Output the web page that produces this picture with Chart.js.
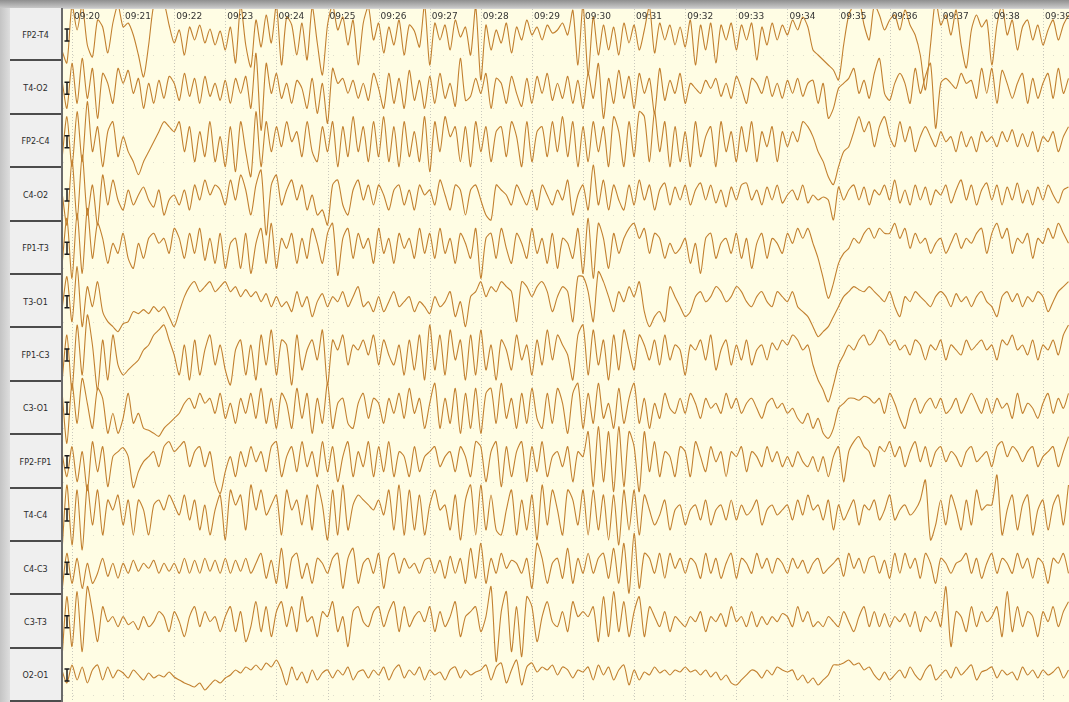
<!DOCTYPE html>
<html>
<head>
<meta charset="utf-8">
<script src="https://cdn.jsdelivr.net/npm/chart.js@4.4.1/dist/chart.umd.min.js"></script>
<style>
  html, body { margin: 0; padding: 0; }
  body { width: 1069px; height: 702px; position: relative; overflow: hidden; background: #d4d4d4; font-family: "DejaVu Sans", sans-serif; }
  #topbar { position: absolute; left: 0; top: 0; width: 1069px; height: 8px; background: linear-gradient(#8f8f8f, #c8c8c8); }
  #leftbar { position: absolute; left: 0; top: 8px; width: 10px; height: 694px; background: linear-gradient(90deg, #c4c4c4, #dedede); }
  #labels { position: absolute; left: 10px; top: 8px; width: 51px; height: 694px; border-right: 2px solid #6a6a6a; background: #efefef; }
  .lab { position: absolute; left: 0; width: 51px; border-bottom: 2px solid #4c4c4c; box-sizing: border-box;
         display: flex; align-items: center; justify-content: center; font-size: 8px; color: #2a2a2a; background: #efefef; padding-top: 3px; }
  #plot { position: absolute; left: 63px; top: 9px; width: 1006px; height: 693px; background: #fffde4; }
</style>
</head>
<body>
<div id="topbar"></div>
<div id="leftbar"></div>
<div id="labels"></div>
<div id="plot"><canvas id="eeg" width="1006" height="693"></canvas></div>
<script>
// Channel names (top to bottom)
const channels = ['FP2-T4','T4-O2','FP2-C4','C4-O2','FP1-T3','T3-O1','FP1-C3','C3-O1','FP2-FP1','T4-C4','C4-C3','C3-T3','O2-O1'];

// Minute tick labels
const minuteLabels = ['09:20','09:21','09:22','09:23','09:24','09:25','09:26','09:27','09:28','09:29',
  '09:30','09:31','09:32','09:33','09:34','09:35','09:36','09:37','09:38','09:39'];
const minuteValues = [20,21,22,23,24,25,26,27,28,29,30,31,32,33,34,35,36,37,38,39];

// Deflections per channel, sampled every 0.1 min from 19.8 (up = positive)
const fp2t4 = [-15,-28,
  30,5,30,-10,-22,15,8,-18,12,30,
  8,12,0,-20,-42,-10,30,35,32,10,
  -8,5,-20,8,-5,10,-8,6,-10,4,
  -15,8,-28,30,-10,-32,15,-12,20,-8,
  30,-30,18,10,-20,12,-25,28,-8,-40,
  10,30,5,18,-10,15,-30,12,28,-5,
  12,-18,8,-10,15,-20,10,4,-12,30,
  -30,12,-5,10,-15,15,-2,8,-20,28,
  -45,10,-15,5,-8,12,-18,8,-5,15,
  0,8,-5,10,2,5,12,0,25,-30,
  30,-40,18,-20,10,-15,8,-20,12,-8,
  10,-15,5,28,-18,12,-5,10,-10,8,
  -12,15,-30,10,-15,12,-28,10,-5,12,
  -15,10,-5,12,-25,8,-10,12,-5,10,
  0,15,5,18,8,-15,-20,-25,-30,-35,
  -45,-10,20,30,35,10,-5,30,20,5,
  15,20,5,25,10,0,-20,-55,-10,35,
  10,20,0,25,-10,-33,5,20,8,15,
  -30,10,30,0,15,-15,8,15,-5,10,
  -10,5,15,-5,10,20];
const t4o2 = [10,-20,
  25,-15,30,-10,20,-30,15,5,-15,20,
  5,18,-5,10,-20,5,-15,8,-10,12,
  5,-12,15,-8,10,-15,12,-8,5,-12,
  8,-15,10,-5,12,-20,35,-42,25,-5,
  15,-10,5,-15,8,0,-20,10,-25,5,
  -35,20,5,10,-5,8,-10,5,-12,15,
  0,-20,15,-15,10,-20,18,-12,8,-20,
  12,-15,15,-10,5,-18,30,-12,-8,10,
  -5,15,-20,10,5,-15,12,-5,-18,10,
  -15,12,-5,15,-12,5,-10,12,-15,8,
  -20,15,-10,25,-30,10,-15,18,-10,12,
  -20,15,-5,10,-25,20,-12,8,-5,15,
  -15,5,0,-5,8,0,10,-8,5,-10,
  12,0,-15,10,5,-5,12,-8,5,-10,
  8,-5,10,-8,5,8,-15,5,-30,-20,
  0,5,10,20,-5,8,-10,15,30,-5,
  -12,5,15,5,-15,20,-5,12,25,-40,
  5,10,5,0,15,5,8,-10,20,-5,
  20,-15,18,5,-10,5,15,-15,10,-10,
  5,15,-10,20,-5,10];
const fp2c4 = [-20,25,
  -25,30,-20,40,-10,15,-25,10,20,-15,
  5,-10,-20,-33,-20,-10,0,10,20,15,
  10,20,-10,15,-20,10,-15,20,-20,5,
  -25,15,-30,20,-10,-35,30,-25,20,-10,
  15,-5,20,0,10,-15,20,-10,-20,15,
  -10,20,-25,15,-15,25,-10,15,-20,20,
  -15,25,-20,15,-25,20,-15,10,-20,25,
  -30,20,-10,25,5,15,-20,15,-25,20,
  -10,15,-20,10,15,-15,20,5,-25,20,
  -20,10,15,-15,20,-10,25,-15,20,-25,
  15,-20,20,-10,15,-25,25,10,-25,20,
  -15,30,25,-20,30,-10,20,-25,15,-20,
  10,-25,20,-15,5,15,-25,20,-10,10,
  -20,15,-10,20,-20,10,-5,15,-20,10,
  -5,10,0,20,15,5,-10,-20,-35,-43,
  -25,-10,-5,10,25,10,20,-5,15,25,
  5,-5,20,0,15,-10,5,15,5,-5,
  10,0,5,-10,10,-5,5,-10,10,0,
  5,-5,10,0,12,-5,8,-5,10,-10,
  5,0,10,-10,5,15];
const c4o2 = [5,-30,
  35,-25,40,-20,10,-30,20,-10,15,-5,
  -15,5,-10,0,8,-5,-12,5,-20,-5,
  0,-10,5,-15,10,-5,15,0,10,5,
  -10,15,-5,20,5,-20,10,25,-40,10,
  20,-10,5,15,-5,10,-15,0,-20,-15,
  -30,10,15,-10,-20,5,15,-5,10,-10,
  10,0,-15,5,10,-10,5,-15,10,0,
  5,-10,15,0,-15,10,5,-20,5,10,
  -5,-20,-25,10,5,0,-10,10,0,-10,
  5,-15,10,0,-10,5,-5,15,-20,0,
  10,-15,30,-10,15,-15,10,-5,-15,10,
  -10,15,-5,10,-15,5,12,-10,8,-5,
  10,-10,5,12,-5,10,-8,5,-12,8,
  -5,10,12,-5,5,-10,8,-5,10,-8,
  0,5,-5,10,-8,0,-5,-2,-5,-25,
  8,-5,5,10,-5,8,-10,5,0,10,
  -5,15,-8,5,-10,10,-5,8,-10,5,
  0,10,-8,5,15,-5,10,-10,5,12,
  -5,10,-10,8,-5,12,-8,5,-10,8,
  -5,10,0,-8,5,8];
const fp1t3 = [-20,30,
  -30,35,-25,40,-10,25,10,-15,5,-5,
  15,-10,-20,5,-10,10,15,5,10,-5,
  20,10,-10,15,-5,20,-12,10,-15,15,
  -20,5,10,-20,15,-25,5,20,-15,25,
  -20,10,0,15,-15,10,-10,20,5,-15,
  15,25,-27,10,20,-10,15,0,10,-15,
  20,-5,10,-15,15,0,10,-10,20,-5,
  15,-10,20,-5,10,-15,15,5,-10,20,
  -30,10,15,-10,20,0,-15,15,5,-10,
  20,-5,10,-15,15,-20,10,5,-10,20,
  -25,30,-30,25,10,-20,15,-5,10,20,
  25,10,20,-5,15,10,-10,5,-5,0,
  10,-15,5,-25,10,15,-10,5,10,-5,
  15,-10,10,-20,5,15,-10,10,5,-5,
  15,5,20,10,20,5,-10,-30,-50,-35,
  -15,-5,0,10,5,15,20,10,20,15,
  15,25,10,20,0,15,5,10,-5,5,
  10,-5,5,15,0,10,5,15,20,-5,
  15,25,10,20,-5,10,5,15,-10,10,
  5,20,10,25,15,5];
const t3o1 = [-10,25,
  -20,35,-25,15,-5,20,-10,-20,-25,-30,
  -22,-20,-10,-12,-8,-12,-5,-10,-5,-15,
  -25,-10,5,15,20,10,15,20,10,15,
  20,10,15,5,12,5,10,0,8,-5,
  5,-5,0,-10,10,-5,5,-15,0,8,
  -5,5,0,10,-5,5,15,-5,0,-10,
  5,-10,0,10,-5,0,5,-10,0,-5,
  -12,5,-5,0,10,-15,0,-25,5,10,
  20,5,15,10,20,15,10,-20,20,15,
  5,15,20,10,-10,5,15,10,-20,25,
  25,10,-20,30,20,5,-10,10,0,15,
  5,20,-10,-25,-15,-10,-20,15,5,-5,
  -15,-10,5,10,0,5,15,10,0,5,
  15,10,0,-5,5,10,0,-5,10,5,
  0,10,-5,-10,-15,-25,-35,-30,-25,-15,
  -5,5,10,15,12,10,15,10,5,0,
  10,-5,-15,5,0,10,5,0,-5,5,
  10,5,-5,8,0,5,-5,5,10,0,
  -5,-15,5,10,0,8,-5,5,0,10,
  5,-10,0,10,15,20];
const fp1c3 = [-30,20,
  -35,30,-20,40,10,-35,15,-25,20,-10,
  -20,-15,-10,-5,5,10,20,25,30,15,
  0,-20,10,-25,15,-20,5,20,-10,10,
  -15,-30,5,15,-20,10,-25,20,-10,25,
  -20,15,10,-30,20,-15,5,15,-5,25,
  -30,15,5,20,-10,10,5,15,0,20,
  -10,15,0,-10,10,-20,15,-15,20,-25,
  30,-15,20,-20,25,-5,15,-25,20,-20,
  25,-15,10,-25,15,5,-15,20,-5,10,
  -20,15,-10,25,-5,20,10,0,-25,20,
  30,-20,25,-10,15,-25,20,-15,25,5,
  -15,20,10,-5,15,-10,20,-5,10,5,
  -20,10,5,15,-5,20,-15,5,15,-10,
  10,-5,15,-10,5,10,-5,12,5,15,
  10,20,15,5,10,-10,-25,-35,-47,-30,
  -10,0,10,5,15,20,10,15,25,20,
  10,15,5,10,0,15,10,-5,10,5,
  15,-5,10,5,0,15,5,10,15,5,
  10,-5,15,10,20,5,10,0,15,-5,
  10,5,15,0,20,30];
const c3o1 = [20,-35,
  25,-15,30,5,-20,20,10,-25,-5,-25,
  -10,15,-15,-5,-20,-22,-25,-28,-20,-15,
  -10,-5,5,10,0,15,5,10,-5,15,
  -10,5,-15,10,-5,15,-10,20,-15,10,
  -20,15,5,-20,20,-10,15,-25,10,-15,
  25,-20,5,10,-15,-20,5,15,-10,10,
  5,-15,10,-5,15,-10,20,-5,10,-20,
  5,25,-20,10,-15,20,-25,15,-20,20,
  -25,15,20,-15,25,-10,10,-20,15,-15,
  20,-10,-20,15,-15,20,5,-25,15,25,
  -20,15,-15,25,-10,5,-20,20,-15,10,
  25,-15,10,-20,5,-10,15,0,-5,10,
  -5,15,5,-10,10,0,5,-5,15,0,
  10,-5,5,10,0,-10,5,10,0,5,
  -5,0,-10,-15,-5,-20,-10,-25,-30,-20,
  0,5,10,10,8,12,10,5,10,-5,
  15,5,-10,-20,0,10,-5,5,10,0,
  10,-5,0,10,-5,5,15,5,-5,10,
  -5,10,0,5,-10,15,-5,5,0,-10,
  5,15,-5,10,0,15];
const fp2fp1 = [10,-15,
  15,-20,10,-29,20,-10,15,-25,5,10,
  14,5,-26,-10,0,5,10,-5,15,20,
  10,15,20,-5,10,15,-5,10,-20,-32,
  -10,5,-15,10,-5,15,0,10,-10,15,
  20,-15,5,15,-10,20,-5,10,-15,20,
  -10,15,-20,5,20,-15,10,-5,20,-15,
  15,-10,20,-15,10,5,-15,15,-10,5,
  10,15,-5,5,10,-10,15,5,-15,20,
  15,-20,10,20,-25,15,-15,10,20,-20,
  15,-10,20,-15,5,10,-5,15,-20,10,
  5,30,-25,35,-20,30,-30,35,-25,30,
  15,-30,30,-10,20,-15,10,5,-15,15,
  10,-15,20,5,-10,15,0,10,-15,10,
  5,15,-10,10,5,-5,15,0,10,-5,
  5,-5,10,0,-5,5,-10,5,-15,5,
  15,-20,10,20,25,15,10,-5,15,10,
  20,5,15,-5,10,20,0,15,-5,10,
  15,0,10,5,-5,10,15,0,5,10,
  -5,15,20,5,15,10,0,10,15,-5,
  5,10,15,-5,10,25];
const t4c4 = [-40,30,
  -30,25,-35,30,-10,25,-20,15,5,20,
  -10,15,-20,15,5,-20,10,15,5,20,
  10,0,20,-5,15,-15,10,-20,5,20,
  -25,25,10,20,-15,30,5,25,0,10,
  20,-20,25,5,15,-10,20,-15,30,10,
  -25,25,-20,30,-15,10,20,15,10,5,
  15,0,25,-15,30,-20,25,-15,20,-20,
  10,25,5,10,-15,20,-25,15,30,-20,
  30,-15,20,-15,-20,5,25,-20,15,-15,
  20,-25,30,-10,25,5,-20,25,15,-10,
  25,-20,25,-15,20,-25,20,-30,25,-15,
  25,-20,20,5,-10,0,15,-15,5,10,
  -10,5,10,-5,15,-10,5,10,-5,15,
  -5,10,0,5,15,-10,5,10,0,5,
  10,-5,15,0,20,5,10,-5,15,-15,
  10,-5,5,15,-10,10,5,15,-5,5,
  20,-5,5,10,0,5,15,35,-25,-10,
  15,-10,20,5,-15,15,-10,25,5,10,
  10,40,-20,5,20,-15,10,20,-20,5,
  15,-15,10,20,-10,30];
const c4c3 = [-25,15,
  -15,10,-20,5,-15,-5,10,-8,5,-10,
  5,-5,8,-3,5,0,8,-5,5,-3,
  5,-5,10,-5,8,-5,10,-3,8,-5,
  10,-5,8,-3,10,-5,5,15,-10,8,
  -15,20,-20,10,15,-10,5,-15,10,5,
  -5,10,15,-20,10,20,-15,5,10,-5,
  15,-20,10,15,-5,10,0,5,-5,8,
  10,-5,8,-10,12,-5,10,-15,20,-10,
  25,-15,10,-5,15,0,8,5,-5,10,
  -20,25,10,-15,5,10,-10,20,-15,10,
  -5,15,-5,10,15,-10,20,-15,25,-25,
  35,-20,15,10,-5,15,-10,15,0,10,
  -5,10,5,-10,15,-5,10,-10,5,15,
  -10,10,5,-5,15,0,10,-5,10,5,
  -5,10,0,8,-5,5,10,-5,0,5,
  10,-8,15,0,10,-5,10,12,-5,8,
  -10,15,-5,15,0,10,-10,15,5,-15,
  10,5,-5,5,8,15,-5,10,-10,5,
  15,-5,10,5,-5,15,0,10,-10,10,
  5,-15,10,5,15,-5];
const c3t3 = [-40,25,
  -25,30,-30,35,10,-20,15,0,5,-5,
  5,-3,0,-8,5,-5,0,10,5,-10,
  10,0,-15,5,15,-5,10,0,5,-10,
  5,15,-10,10,-20,-5,20,-10,15,-15,
  10,20,-5,15,-10,25,0,5,-15,10,
  5,20,-10,5,-25,10,15,0,-5,10,
  15,-5,10,20,-10,15,-5,5,10,0,
  15,-10,10,-5,5,20,-15,5,10,15,
  -10,5,35,-40,10,30,-30,15,-35,25,
  15,-20,5,20,0,-5,10,-10,20,5,
  10,5,15,-20,25,-15,30,-10,20,-15,
  10,25,-15,15,5,-5,10,-10,5,0,
  -5,5,0,10,-10,5,0,8,-5,15,
  0,5,-5,10,-5,5,-3,5,0,8,
  5,-5,15,0,10,-5,0,-5,5,0,
  -5,10,0,-10,5,15,-5,10,-5,8,
  -5,5,0,8,-5,10,-10,5,0,10,
  -5,35,-25,10,5,-10,15,-5,10,0,
  5,15,-15,30,-10,15,-5,10,5,-15,
  10,0,15,-5,10,20];
const o2o1 = [5,-8,
  10,-5,8,-8,5,10,-5,8,-3,5,
  2,-3,5,0,-5,2,-3,0,-2,3,
  -2,-5,-8,-10,-12,-8,-15,-10,-5,-8,
  -3,0,5,2,8,5,10,5,12,8,
  15,5,-10,8,-5,3,-8,5,-5,2,
  5,-3,5,0,8,-5,3,5,-3,5,
  0,8,-5,5,10,-3,5,0,8,-5,
  5,0,3,-5,5,8,-3,5,0,3,
  5,10,-5,8,12,-8,5,15,-10,8,
  12,3,8,5,10,0,8,5,-3,5,
  3,8,-5,10,0,8,-5,5,10,-10,
  5,-5,3,0,8,2,5,0,5,3,
  8,3,5,0,5,-2,3,-5,0,-8,
  -10,-5,0,5,3,-3,5,0,8,5,
  3,5,-5,0,-8,-3,-10,-5,0,10,
  10,12,15,10,12,5,8,0,-5,3,
  -5,0,5,-3,8,0,-5,5,10,-5,
  0,5,-3,8,0,5,10,-5,3,5,
  8,-3,5,0,3,-5,8,0,5,-3,
  5,0,3,8,-3,5];

const traces = [fp2t4, t4o2, fp2c4, c4o2, fp1t3, t3o1, fp1c3, c3o1, fp2fp1, t4c4, c4c3, c3t3, o2o1];

const PLOT_H = 693;
const ROW_H = 53.33;
const TRACE_COLOR = '#c2802f';

// left label boxes
const labelBox = document.getElementById('labels');
channels.forEach((name, i) => {
  const d = document.createElement('div');
  d.className = 'lab';
  d.style.top = (i * 53.4) + 'px';
  d.style.height = '53.4px';
  d.textContent = name;
  labelBox.appendChild(d);
});

const datasets = traces.map((vals, k) => {
  const base = PLOT_H - (26 + ROW_H * k);
  return {
    label: channels[k],
    data: vals.map((v, i) => ({ x: 19.8 + i * 0.1, y: base + v })),
    borderColor: TRACE_COLOR,
    borderWidth: 1.1,
    pointRadius: 0,
    tension: 0.25,
    fill: false
  };
});

// grid, minute labels and calibration marks
const eegDecor = {
  id: 'eegDecor',
  beforeDatasetsDraw(chart) {
    const { ctx, chartArea: a, scales: { x, y } } = chart;
    ctx.save();
    // faint dotted rows
    ctx.strokeStyle = 'rgba(160,160,160,0.35)';
    ctx.lineWidth = 1;
    ctx.setLineDash([1, 9]);
    for (let k = 0; k < channels.length; k++) {
      const py = Math.round(y.getPixelForValue(PLOT_H - (46 + ROW_H * k))) + 0.5;
      ctx.beginPath(); ctx.moveTo(a.left, py); ctx.lineTo(a.right, py); ctx.stroke();
    }
    // minute lines
    ctx.strokeStyle = 'rgba(150,150,150,0.5)';
    ctx.setLineDash([1, 2]);
    minuteValues.forEach(m => {
      const px = Math.round(x.getPixelForValue(m)) + 0.5;
      ctx.beginPath(); ctx.moveTo(px, a.top); ctx.lineTo(px, a.bottom); ctx.stroke();
    });
    ctx.restore();
  },
  afterDatasetsDraw(chart) {
    const { ctx, chartArea: a, scales: { x, y } } = chart;
    ctx.save();
    ctx.fillStyle = '#333';
    ctx.font = '9px "DejaVu Sans", sans-serif';
    ctx.textBaseline = 'top';
    minuteValues.forEach((m, i) => {
      ctx.fillText(minuteLabels[i], x.getPixelForValue(m) + 2, a.top + 3);
    });
    // calibration bars
    ctx.strokeStyle = '#1a1a1a';
    ctx.lineWidth = 1.5;
    for (let k = 0; k < channels.length; k++) {
      const cy = y.getPixelForValue(PLOT_H - (26 + ROW_H * k));
      const cx = a.left + 4;
      ctx.beginPath();
      ctx.moveTo(cx, cy - 6); ctx.lineTo(cx, cy + 6);
      ctx.moveTo(cx - 2.5, cy - 6); ctx.lineTo(cx + 2.5, cy - 6);
      ctx.moveTo(cx - 2.5, cy + 6); ctx.lineTo(cx + 2.5, cy + 6);
      ctx.stroke();
    }
    ctx.restore();
  }
};

new Chart(document.getElementById('eeg').getContext('2d'), {
  type: 'line',
  data: { datasets },
  options: {
    responsive: false,
    animation: false,
    events: [],
    layout: { padding: 0 },
    plugins: { legend: { display: false }, tooltip: { enabled: false } },
    scales: {
      x: { type: 'linear', display: false, min: 19.824, max: 39.51 },
      y: { type: 'linear', display: false, min: 0, max: PLOT_H }
    }
  },
  plugins: [eegDecor]
});
</script>
</body>
</html>
